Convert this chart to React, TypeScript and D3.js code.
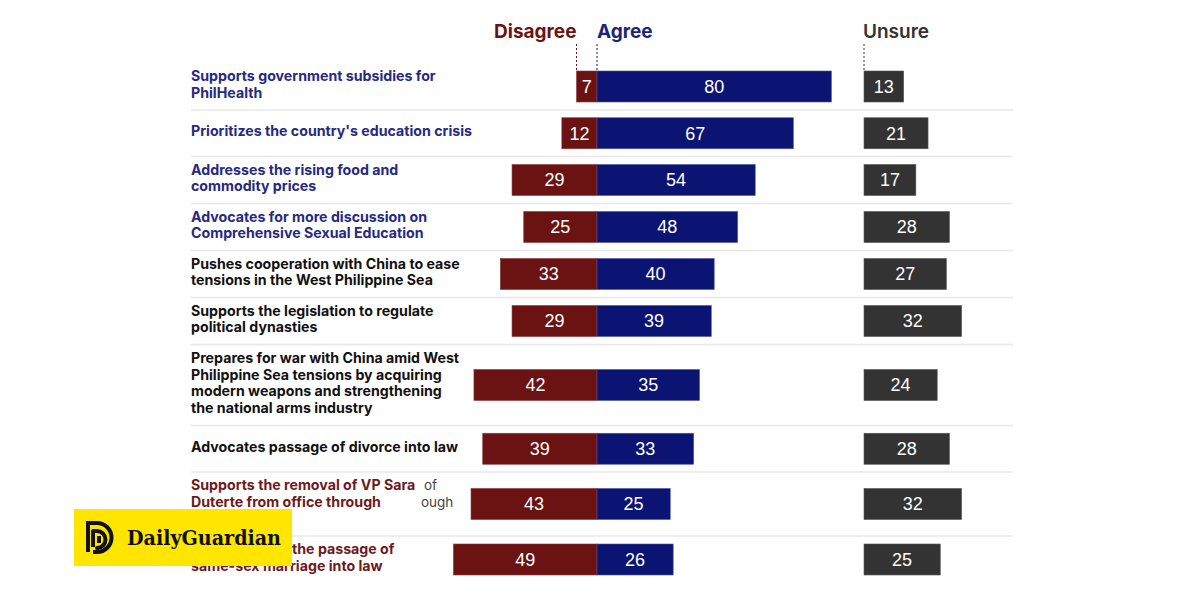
import React from "react";
import * as d3 from "d3";

const statements: string[][] = [
  ["Supports government subsidies for", "PhilHealth"],
  ["Prioritizes the country's education crisis"],
  ["Addresses the rising food and", "commodity prices"],
  ["Advocates for more discussion on", "Comprehensive Sexual Education"],
  ["Pushes cooperation with China to ease", "tensions in the West Philippine Sea"],
  ["Supports the legislation to regulate", "political dynasties"],
  ["Prepares for war with China amid West", "Philippine Sea tensions by acquiring", "modern weapons and strengthening", "the national arms industry"],
  ["Advocates passage of divorce into law"],
  ["Supports the removal of VP Sara", "Duterte from office through", ""],
  ["Advocates for the passage of", "same-sex marriage into law"],
];
const labelGroup = ["blue", "blue", "blue", "blue", "black", "black", "black", "black", "red", "red"];
const disagree = [7, 12, 29, 25, 33, 29, 42, 39, 43, 49];
const agree = [80, 67, 54, 48, 40, 39, 35, 33, 25, 26];
const unsure = [13, 21, 17, 28, 27, 32, 24, 28, 32, 25];
const seriesNames = ["Disagree", "Agree", "Unsure"];
const ghostTexts = ["of", "ough"];

const C_RED = "#6b1212";
const C_BLUE = "#0b1472";
const C_GREY = "#333333";
const LABEL_COL: Record<string, string> = { blue: "#262a80", black: "#111111", red: "#6e1a1d" };

export default function App() {
  const W = 1200, H = 600;
  const y0 = 63;
  const lineH = 16.8;
  const heights = statements.map((s) => Math.max(46.5, 13 + 17 * s.length));
  const tops: number[] = [];
  let acc = y0;
  heights.forEach((h) => { tops.push(acc); acc += h; });
  const centers = tops.map((t, i) => t + heights[i] / 2);

  const zeroX = 597;
  const xAgree = d3.scaleLinear().domain([0, 100]).range([zeroX, zeroX + 293]);
  const xDis = d3.scaleLinear().domain([0, 100]).range([zeroX, zeroX - 293]);
  const unsureX0 = 864;
  const xUns = d3.scaleLinear().domain([0, 100]).range([unsureX0, unsureX0 + 305]);
  const barH = 31;
  const labelX = 191;
  const lineX2 = 1013;

  const valFont = "'Liberation Sans', Arial, sans-serif";
  const labFont = "Inter, 'Noto Sans', sans-serif";
  const labSize = 14.2;

  return (
    <svg width={W} height={H} viewBox={`0 0 ${W} ${H}`} style={{ position: "absolute", left: 0, top: 0, background: "#fff" }}>
      <rect x={0} y={0} width={W} height={H} fill="#ffffff" />
      {tops.slice(1).map((t, i) => (
        <line key={"s" + i} x1={labelX} x2={lineX2} y1={t} y2={t} stroke="#e8e8e8" strokeWidth={1.5} />
      ))}
      <text x={xDis(disagree[0])} y={38} textAnchor="end" fill={C_RED} fontFamily={labFont} fontWeight={700} fontSize={19}>{seriesNames[0]}</text>
      <text x={zeroX} y={38} fill="#1c2478" fontFamily={labFont} fontWeight={700} fontSize={19}>{seriesNames[1]}</text>
      <text x={unsureX0 - 1} y={38} fill={C_GREY} fontFamily={labFont} fontWeight={600} fontSize={19}>{seriesNames[2]}</text>
      <line x1={xDis(disagree[0])} x2={xDis(disagree[0])} y1={44} y2={centers[0] - barH / 2} stroke={C_RED} strokeDasharray="2,2" strokeWidth={1} />
      <line x1={zeroX} x2={zeroX} y1={44} y2={centers[0] - barH / 2} stroke={C_BLUE} strokeDasharray="2,2" strokeWidth={1} />
      <line x1={unsureX0} x2={unsureX0} y1={44} y2={centers[0] - barH / 2} stroke={C_GREY} strokeDasharray="2,2" strokeWidth={1} />

      {statements.map((lines, i) => {
        const cy = centers[i];
        const startY = cy - ((lines.length - 1) * lineH) / 2 - 2;
        return (
          <g key={"r" + i}>
            {lines.map((ln, j) => (
              <text key={j} x={labelX} y={startY + j * lineH} dy="0.35em" fill={LABEL_COL[labelGroup[i]]}
                fontFamily={labFont} fontWeight={700} fontSize={labSize}>{ln}</text>
            ))}
            <rect x={xDis(disagree[i])} y={cy - barH / 2} width={xDis(0) - xDis(disagree[i])} height={barH} fill={C_RED} stroke="#8a3a3a" strokeWidth={0.6} />
            <rect x={xAgree(0)} y={cy - barH / 2} width={xAgree(agree[i]) - xAgree(0)} height={barH} fill={C_BLUE} stroke="#4a56a8" strokeWidth={0.6} />
            <rect x={xUns(0)} y={cy - barH / 2} width={xUns(unsure[i]) - xUns(0)} height={barH} fill={C_GREY} stroke="#555" strokeWidth={0.6} />
            <text x={(xDis(disagree[i]) + xDis(0)) / 2} y={cy} dy="0.36em" textAnchor="middle" fill="#fff" fontFamily={valFont} fontSize={18}>{disagree[i]}</text>
            <text x={(xAgree(agree[i]) + xAgree(0)) / 2} y={cy} dy="0.36em" textAnchor="middle" fill="#fff" fontFamily={valFont} fontSize={18}>{agree[i]}</text>
            <text x={(xUns(unsure[i]) + xUns(0)) / 2} y={cy} dy="0.36em" textAnchor="middle" fill="#fff" fontFamily={valFont} fontSize={18}>{unsure[i]}</text>
          </g>
        );
      })}
      {ghostTexts.map((g, j) => (
        <text key={"g" + j} x={j === 0 ? 424 : 421} y={centers[8] - lineH - 2 + j * lineH} dy="0.35em" fill="#444" fontFamily={labFont} fontWeight={400} fontSize={13.5}>{g}</text>
      ))}

      <g>
        <rect x={74} y={509} width={218} height={57} fill="#ffe500" />
        <g fill="none" stroke="#111" strokeWidth={4} strokeLinejoin="round">
          <path d="M88,523 V552 M86,523 H97 A14.5,14.5 0 0 1 97,552 H93" />
          <path d="M93,547 V531 H97 A8.5,8.5 0 0 1 97,548 H99 M99,543 V536" />
        </g>
        <text x={127} y={545} fill="#111" fontFamily="'DejaVu Serif', serif" fontWeight={700} fontSize={20} textLength={154} lengthAdjust="spacingAndGlyphs">DailyGuardian</text>
      </g>
    </svg>
  );
}
